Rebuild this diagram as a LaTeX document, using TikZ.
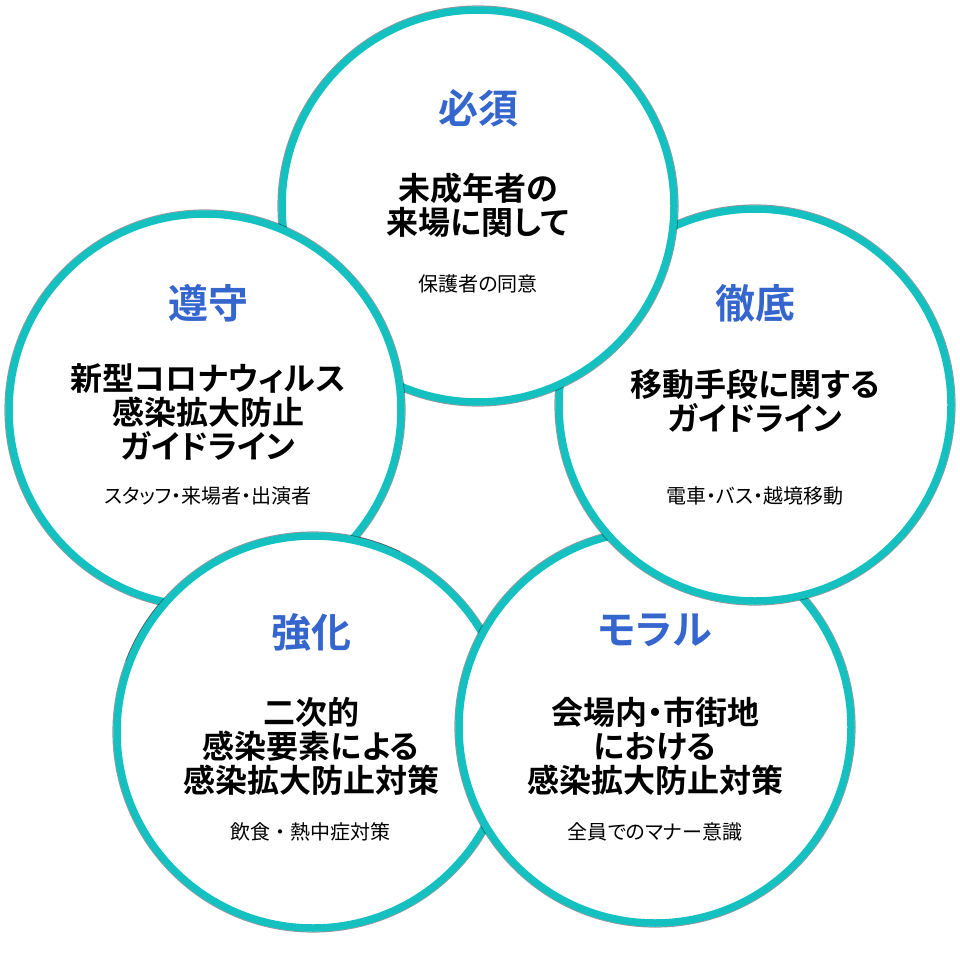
\documentclass[tikz,border=0pt]{standalone}
\usepackage{fontspec}
\setmainfont{Noto Sans CJK JP}[BoldFont=* Bold,RawFeature=+palt]
\newfontfamily\jpfull{Noto Sans CJK JP}
\definecolor{ringc}{RGB}{20,192,192}
\definecolor{titc}{RGB}{52,102,206}
\begin{document}
\begin{tikzpicture}[x=1pt,y=-1pt,
  ring/.style={draw=ringc,line width=7.5pt,fill=white},
  shade/.style={draw=black,line width=1.2pt,opacity=0.4},
  ttl/.style={font=\fontsize{40}{44}\selectfont\bfseries,text=titc,inner sep=0pt},
  body/.style={font=\fontsize{32}{34}\selectfont\bfseries,align=center,inner sep=0pt},
  sub/.style={font=\fontsize{20}{24}\selectfont,inner sep=0pt}]
\useasboundingbox (0,0) rectangle (960,952);
\fill[white] (0,0) rectangle (960,952);
% centres
\coordinate (cT) at (478,206);
\coordinate (cL) at (205,410);
\coordinate (cR) at (755,405);
\coordinate (cBL) at (313,732);
\coordinate (cBR) at (655,727);
\def\rr{196}
% draw order BL, BR, R, T, L
\foreach \c in {cBL,cBR,cR,cT,cL}{
  \draw[shade] (\c) circle (200);
  \draw[ring] (\c) circle (\rr);
}
% close the cycle: BL over L
\begin{scope}
  \clip (80,515) rectangle (400,660);
  \draw[shade] (cBL) circle (200);
  \draw[ring] (cBL) circle (\rr);
\end{scope}
% texts
\node[ttl] (tT) at (478,108) {必須};
\node[body] (bT) at (478,205) {未成年者の\\来場に関して};
\node[sub] (sT) at (478,284) {保護者の同意};

\node[ttl] (tL) at (208,303) {遵守};
\node[body] (bL) at (208,412) {新型コロナウィルス\\感染拡大防止\\ガイドライン};
\node[sub] (sL) at (208,496) {スタッフ・来場者・出演者};

\node[ttl] (tR) at (755,303) {徹底};
\node[body] (bR) at (755,400.5) {移動手段に関する\\ガイドライン};
\node[sub] (sR) at (755,496) {電車・バス・越境移動};

\node[ttl] (tBL) at (311,632) {強化};
\node[body] (bBL) at (311,746) {二次的\\感染要素による\\感染拡大防止対策};
\node[sub] (sBL) at (310,832) {\jpfull 飲食・熱中症対策};

\node[ttl] (tBR) at (655,630) {モラル};
\node[body] (bBR) at (655,746) {会場内・市街地\\における\\感染拡大防止対策};
\node[sub] (sBR) at (655,832) {全員でのマナー意識};
\end{tikzpicture}
\end{document}
